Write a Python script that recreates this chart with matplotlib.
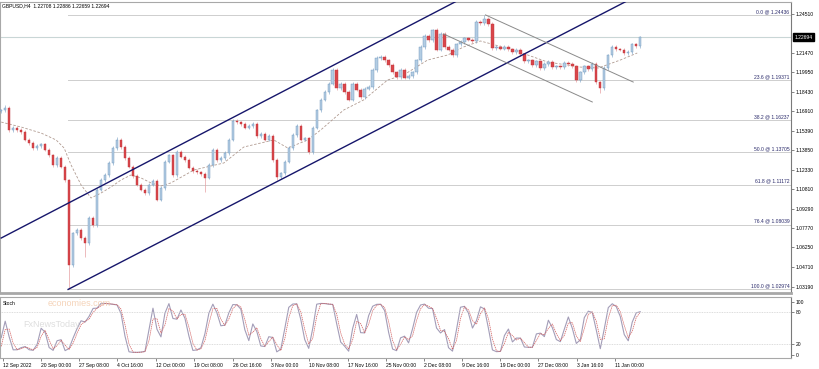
import matplotlib
matplotlib.use("Agg")
import matplotlib.pyplot as plt
import matplotlib.transforms as mtransforms
import numpy as np

plt.rcParams["font.family"] = ["Liberation Sans", "DejaVu Sans"]

# GBPUSD H4, one candle per ~3 bars (closes)
closes = [
    1.1700, 1.1716, 1.1544, 1.1560, 1.1544, 1.1528, 1.1466, 1.1442, 1.1403, 1.1419,
    1.1434, 1.1388, 1.1348, 1.1270, 1.1325, 1.1255, 1.1150, 1.0488, 1.0738, 1.0762,
    1.0699, 1.0660, 1.0856, 1.0801, 1.1075, 1.1153, 1.1192, 1.1286, 1.1403, 1.1466,
    1.1411, 1.1325, 1.1255, 1.1184, 1.1114, 1.1075, 1.1051, 1.1114, 1.1145, 1.0997,
    1.1090, 1.1294, 1.1348, 1.1192, 1.1372, 1.1333, 1.1309, 1.1247, 1.1223, 1.1215,
    1.1200, 1.1169, 1.1270, 1.1388, 1.1309, 1.1325, 1.1364, 1.1466, 1.1614, 1.1606,
    1.1591, 1.1560, 1.1575, 1.1591, 1.1497, 1.1513, 1.1466, 1.1497, 1.1309, 1.1176,
    1.1207, 1.1294, 1.1403, 1.1505, 1.1575, 1.1466, 1.1480, 1.1372, 1.1560, 1.1700,
    1.1779, 1.1841, 1.1904, 1.2013, 1.1872, 1.1904, 1.1841, 1.1779, 1.1904, 1.1857,
    1.1802, 1.1865, 1.1880, 1.2013, 1.2107, 1.2115, 1.2091, 1.2052, 1.1997, 1.1958,
    1.2013, 1.1951, 1.1966, 1.1997, 1.2091, 1.2193, 1.2279, 1.2248, 1.2326, 1.2170,
    1.2295, 1.2193, 1.2170, 1.2130, 1.2216, 1.2232, 1.2263, 1.2250, 1.2240, 1.2389,
    1.2380, 1.2412, 1.2373, 1.2185, 1.2193, 1.2180, 1.2193, 1.2177, 1.2154, 1.2170,
    1.2138, 1.2083, 1.2091, 1.2052, 1.2083, 1.2029, 1.2060, 1.2076, 1.2036, 1.2044,
    1.2036, 1.2068, 1.2060, 1.2044, 1.1935, 1.1997, 1.2044, 1.2021, 1.2060, 1.1919,
    1.1872, 1.2029, 1.2130, 1.2193, 1.2177, 1.2170, 1.2146, 1.2154, 1.2216, 1.2201,
    1.22694,
]
first_open = 1.1690
low_marks = {17: 1.0297, 21: 1.0551, 51: 1.1059, 69: 1.1153, 150: 1.1833}
high_marks = {1: 1.1739, 29: 1.1489, 108: 1.2334, 121: 1.2444}

# moving average (traced)
ma_idx = [0, 5, 10, 13.75, 15.75, 17.5, 20, 22.5, 25, 27.5, 30, 32.5, 35, 37.5, 40,
          42.5, 48.25, 55.75, 60.75, 68.25, 71.75, 76.75, 80, 85.75, 90.75, 96.75,
          100.75, 106.75, 111.75, 115.75, 120, 128.25, 136.75, 145, 149.5, 155, 159.25]
ma_val = [1.1606, 1.1567, 1.1520, 1.1466, 1.1403, 1.1270, 1.1114, 1.1012, 1.1051,
          1.1098, 1.1153, 1.1192, 1.1169, 1.1130, 1.1106, 1.1130, 1.1231, 1.1286,
          1.1411, 1.1466, 1.1403, 1.1466, 1.1544, 1.1700, 1.1779, 1.1935, 1.1974,
          1.2091, 1.2130, 1.2193, 1.2240, 1.2170, 1.2076, 1.2036, 1.2029, 1.2091, 1.2146]

# fibonacci retracement
fib_pct = [0.0, 23.6, 38.2, 50.0, 61.8, 76.4, 100.0]
fib_price = [1.24436, 1.19371, 1.16237, 1.13705, 1.11172, 1.08039, 1.02974]
fib_start = 16.75

# trend lines: (idx, price) anchor pairs
channel_up = [(0, 1.0699), (125, 1.2730)]
channel_lo = [(16.75, 1.0297), (165, 1.2687)]
desc_up = [(121.25, 1.2444), (158.25, 1.1919)]
desc_lo = [(110.75, 1.2295), (148.0, 1.1763)]

price_ticks = [1.24510, 1.21470, 1.19950, 1.18430, 1.16910, 1.15390, 1.13850,
               1.12330, 1.10810, 1.09290, 1.07770, 1.06250, 1.04710, 1.03190]
last_price = 1.22694
header = "GBPUSD,H4  1.22708 1.22886 1.22659 1.22694"

date_pos = [0.5, 10, 19.5, 29, 38.75, 48.25, 58, 67.5, 77, 86.75, 96.25, 105.75,
            115.5, 125, 134.5, 144.25, 153.75]
date_labels = ["12 Sep 2022", "20 Sep 00:00", "27 Sep 08:00", "4 Oct 16:00",
               "12 Oct 00:00", "19 Oct 08:00", "26 Oct 16:00", "3 Nov 00:00",
               "10 Nov 08:00", "17 Nov 16:00", "25 Nov 00:00", "2 Dec 08:00",
               "9 Dec 16:00", "19 Dec 00:00", "27 Dec 08:00", "3 Jan 16:00",
               "11 Jan 00:00"]

FS = 3.6
W, H = 819, 369
fig = plt.figure(figsize=(W / 100, H / 100), dpi=100)
ax = fig.add_axes([0.0, 1 - 293 / H, 791 / W, 291 / H])
axs = fig.add_axes([0.0, 1 - 358 / H, 791 / W, 61 / H])

c = np.array(closes)
o = np.concatenate([[first_open], c[:-1]])
n = len(c)
x = np.arange(n)
pad = 0.0012
hi = np.maximum(o, c) + pad
lo = np.minimum(o, c) - pad
for i, v in low_marks.items():
    lo[i] = v
for i, v in high_marks.items():
    hi[i] = v
up = c >= o

bull, bull_edge = "#b3cde3", "#6b93bb"
bear, bear_edge = "#d9464b", "#c0343a"
ax.vlines(x[up], lo[up], hi[up], color="#8fb0cf", lw=0.5, zorder=3)
ax.vlines(x[~up], lo[~up], hi[~up], color="#e6a0a2", lw=0.5, zorder=3)
body = np.maximum(np.abs(c - o), 0.0003)
ax.bar(x[up], body[up], bottom=np.minimum(o, c)[up], width=0.6,
       color=bull, edgecolor=bull_edge, lw=0.3, zorder=4)
ax.bar(x[~up], body[~up], bottom=np.minimum(o, c)[~up], width=0.6,
       color=bear, edgecolor=bear_edge, lw=0.3, zorder=4)

ax.plot(ma_idx, ma_val, color="#b09a90", lw=0.6, ls=(0, (3, 2)), zorder=2)

xmax = 791 / 4
ax.set_xlim(-0.3, xmax)
ax.set_ylim(1.0269, 1.2545)

for pct, pr in zip(fib_pct, fib_price):
    ax.hlines(pr, fib_start, xmax, color="#8e8e8e", lw=0.6, ls=(0, (1.2, 1.2)), zorder=1)
    ax.text(xmax - 0.4, pr + 0.0007, f"{pct:.1f} @ {pr:.5f}", ha="right", va="bottom",
            fontsize=FS, color="#2b2b6b")

ax.axhline(last_price, color="#c9d6d6", lw=0.8, zorder=1)

navy = "#16166b"
for (x0, y0), (x1, y1) in [channel_up, channel_lo]:
    ax.plot([x0, x1], [y0, y1], color=navy, lw=1.0, zorder=5)
for (x0, y0), (x1, y1) in [desc_up, desc_lo]:
    ax.plot([x0, x1], [y0, y1], color="#8a8a8a", lw=0.7, zorder=5)

ax.yaxis.tick_right()
ax.set_yticks(price_ticks)
ax.set_yticklabels([f"{t:.5f}" for t in price_ticks])
ax.tick_params(axis="y", direction="out", length=2, width=0.5, colors="#555555",
               labelsize=FS, labelcolor="black", pad=1.5)
ax.set_xticks([])
for s in ["left", "top"]:
    ax.spines[s].set_color("#a8a8a8")
    ax.spines[s].set_linewidth(0.8)
ax.spines["right"].set_color("#7a7a7a")
ax.spines["right"].set_linewidth(0.8)
ax.spines["bottom"].set_color("#a8a8a8")
ax.spines["bottom"].set_linewidth(2.0)

tr = mtransforms.blended_transform_factory(ax.transAxes, ax.transData)
ax.text(1.004, last_price, f"{last_price:.5f}", transform=tr, ha="left", va="center",
        fontsize=FS, color="white",
        bbox=dict(boxstyle="square,pad=0.25", fc="black", ec="black"))
fig.text(2 / W, 1 - 6 / H, header, fontsize=FS, ha="left", va="center")

# stochastic oscillator from the candles
per, slow, sig = 3, 2, 2
kraw = np.zeros(n)
for i in range(n):
    a = max(0, i - per + 1)
    h, l = hi[a:i + 1].max(), lo[a:i + 1].min()
    kraw[i] = 100 * (c[i] - l) / (h - l)
k = np.convolve(kraw, np.ones(slow) / slow, mode="same")
d = np.convolve(k, np.ones(sig) / sig, mode="same")
axs.plot(x, k, color="#a39db8", lw=0.8)
axs.plot(x, d, color="#d25c5c", lw=0.5, ls=(0, (2, 1)))
for lv in [80, 20]:
    axs.axhline(lv, color="#c8c8c8", lw=0.5, ls=(0, (1.2, 1.2)))
axs.set_xlim(-0.3, xmax)
axs.set_ylim(-5.7, 109)
axs.yaxis.tick_right()
axs.set_yticks([100, 80, 20, 0])
axs.tick_params(axis="y", direction="out", length=2, width=0.5, colors="#555555",
                labelsize=FS, labelcolor="black", pad=1.5)
axs.set_xticks(date_pos)
axs.set_xticklabels(date_labels, ha="left")
axs.tick_params(axis="x", direction="out", length=2, width=0.5, colors="#555555",
                labelsize=FS, labelcolor="black", pad=1.5)
for s in ["left", "top", "bottom"]:
    axs.spines[s].set_color("#a8a8a8")
    axs.spines[s].set_linewidth(0.8)
axs.spines["right"].set_color("#7a7a7a")
axs.spines["right"].set_linewidth(0.8)
axs.text(0.003, 0.93, "Stoch", transform=axs.transAxes, fontsize=FS, va="top")
axs.text(0.06, 0.97, "economies.com", transform=axs.transAxes, fontsize=6.5,
         color="#f3c9a8", alpha=0.8, va="top")
axs.text(0.03, 0.62, "FxNewsToday", transform=axs.transAxes, fontsize=6.5,
         color="#d6d6d6", alpha=0.8, va="top")

fig.savefig("out.png", dpi=100)
